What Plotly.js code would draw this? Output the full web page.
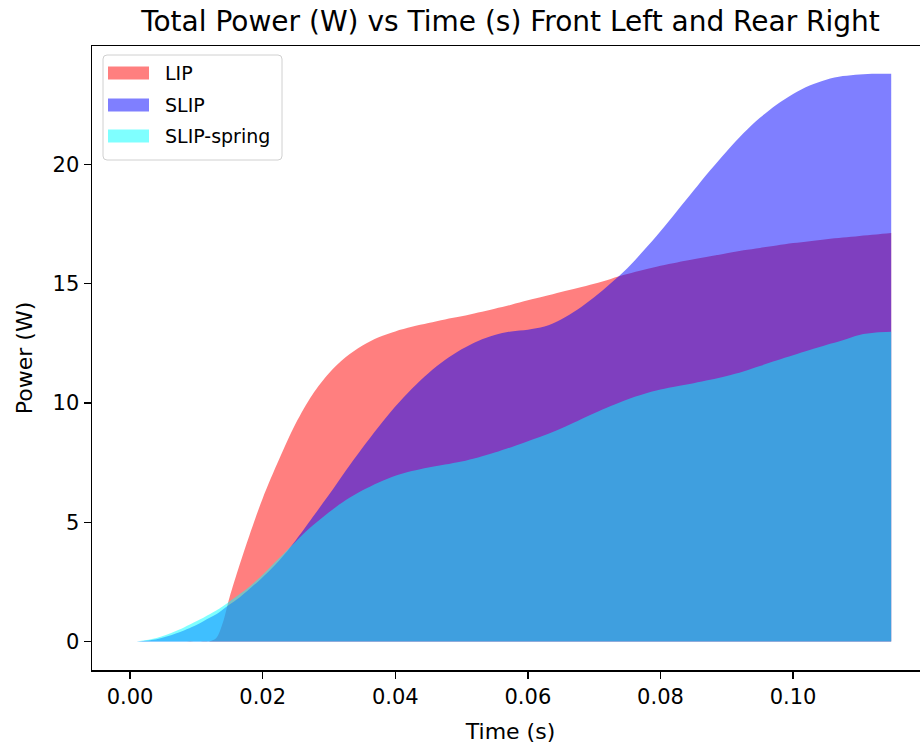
<!DOCTYPE html>
<html>
<head>
<meta charset="utf-8">
<script src="https://cdn.plot.ly/plotly-3.0.1.min.js"></script>
<style>
  html, body { margin: 0; padding: 0; background: #fff; overflow: hidden; }
  #chart { width: 930px; height: 746px; }
</style>
</head>
<body>
<div id="chart"></div>
<script>
// Sample times (s)
const time = [0.001, 0.004, 0.007, 0.010, 0.012, 0.013, 0.014, 0.015, 0.0165, 0.018,
  0.020, 0.0225, 0.025, 0.0275, 0.030, 0.0325, 0.035, 0.0375, 0.040, 0.0425,
  0.045, 0.0475, 0.050, 0.0525, 0.055, 0.0575, 0.060, 0.0625, 0.065, 0.0675,
  0.070, 0.0725, 0.075, 0.0775, 0.080, 0.0825, 0.085, 0.0875, 0.090, 0.0925,
  0.095, 0.0975, 0.100, 0.1025, 0.105, 0.1075, 0.110, 0.1125, 0.1148];

// Total power (W), front left + rear right, per model
const lipPower = [0, 0, 0, 0, 0.02, 0.15, 0.8, 1.85, 3.2, 4.45,
  6.0, 7.65, 9.15, 10.35, 11.25, 11.92, 12.4, 12.75, 13.0, 13.19,
  13.35, 13.5, 13.63, 13.79, 13.95, 14.12, 14.3, 14.47, 14.65, 14.82,
  15.0, 15.2, 15.4, 15.58, 15.75, 15.89, 16.02, 16.15, 16.28, 16.4,
  16.5, 16.6, 16.7, 16.78, 16.86, 16.93, 17.0, 17.06, 17.12];

const slipPower = [0, 0.1, 0.35, 0.7, 1.0, 1.15, 1.35, 1.55, 1.85, 2.2,
  2.7, 3.4, 4.25, 5.2, 6.15, 7.15, 8.1, 9.0, 9.85, 10.6,
  11.25, 11.8, 12.25, 12.6, 12.85, 13.0, 13.07, 13.2, 13.5, 13.92,
  14.43, 15.02, 15.65, 16.4, 17.2, 18.05, 18.9, 19.75, 20.55, 21.3,
  21.95, 22.5, 22.95, 23.3, 23.55, 23.7, 23.77, 23.8, 23.8];

const slipSpringPower = [0, 0.15, 0.45, 0.85, 1.15, 1.3, 1.48, 1.68, 1.98, 2.3,
  2.8, 3.5, 4.2, 4.85, 5.42, 5.92, 6.33, 6.67, 6.95, 7.15,
  7.3, 7.42, 7.55, 7.72, 7.92, 8.15, 8.4, 8.65, 8.93, 9.25,
  9.57, 9.87, 10.15, 10.38, 10.56, 10.7, 10.83, 10.97, 11.13, 11.32,
  11.55, 11.78, 12.0, 12.22, 12.43, 12.63, 12.85, 12.95, 12.98];

const seriesNames = ['LIP', 'SLIP', 'SLIP-spring'];
const seriesColors = ['rgba(255,0,0,0.5)', 'rgba(0,0,255,0.5)', 'rgba(0,255,255,0.5)'];
const seriesValues = [lipPower, slipPower, slipSpringPower];

const xTicks = [0, 0.02, 0.04, 0.06, 0.08, 0.10];
const yTicks = [0, 5, 10, 15, 20];

const FONT = 'DejaVu Sans, sans-serif';

const traces = seriesNames.map((name, i) => ({
  type: 'scatter',
  mode: 'lines',
  name: name,
  x: time,
  y: seriesValues[i],
  fill: 'tozeroy',
  fillcolor: seriesColors[i],
  line: { width: 0, shape: 'spline', smoothing: 0.9, color: seriesColors[i] },
  hoverinfo: 'x+y+name',
  showlegend: false
}));

// Legend box drawn in pixels from the top-left corner of the plot area
const shapes = [];
const annotations = [];
const boxL = 11, boxR = 190, boxT = 9, boxB = 114, rad = 4;
shapes.push({
  type: 'path', xref: 'paper', yref: 'paper',
  xsizemode: 'pixel', ysizemode: 'pixel', xanchor: 0, yanchor: 1,
  path: `M ${boxL + rad},${-boxT} L ${boxR - rad},${-boxT} Q ${boxR},${-boxT} ${boxR},${-boxT - rad} ` +
        `L ${boxR},${-boxB + rad} Q ${boxR},${-boxB} ${boxR - rad},${-boxB} ` +
        `L ${boxL + rad},${-boxB} Q ${boxL},${-boxB} ${boxL},${-boxB + rad} ` +
        `L ${boxL},${-boxT - rad} Q ${boxL},${-boxT} ${boxL + rad},${-boxT} Z`,
  fillcolor: 'rgba(255,255,255,0.8)',
  line: { color: '#d0d0d0', width: 1 },
  layer: 'above'
});
const rowCenters = [27, 59, 90];
seriesNames.forEach((name, i) => {
  const c = rowCenters[i];
  shapes.push({
    type: 'rect', xref: 'paper', yref: 'paper',
    xsizemode: 'pixel', ysizemode: 'pixel', xanchor: 0, yanchor: 1,
    x0: 16, x1: 57, y0: -(c - 6.5), y1: -(c + 6.5),
    fillcolor: seriesColors[i], line: { width: 0 }, layer: 'above'
  });
  annotations.push({
    xref: 'paper', yref: 'paper', x: 0, y: 1,
    xanchor: 'left', yanchor: 'middle',
    xshift: 71, yshift: -c,
    text: name, showarrow: false,
    font: { family: FONT, size: 19, color: '#000' }
  });
});

const axisCommon = {
  showgrid: false, zeroline: false,
  showline: true, mirror: true, linecolor: '#000', linewidth: 1.5,
  ticks: 'outside', ticklen: 7, tickwidth: 1.5, tickcolor: '#000',
  tickfont: { family: FONT, size: 21, color: '#000' }
};

const layout = {
  width: 930, height: 746,
  margin: { l: 92, r: 1, t: 46, b: 76 },
  paper_bgcolor: '#fff', plot_bgcolor: '#fff',
  title: {
    text: 'Total Power (W) vs Time (s) Front Left and Rear Right',
    font: { family: FONT, size: 28, color: '#000' },
    x: 0.5, xref: 'paper', xanchor: 'center',
    y: 1 - 21 / 746, yref: 'container', yanchor: 'middle'
  },
  xaxis: Object.assign({}, axisCommon, {
    range: [-0.00574, 0.1205],
    tickvals: xTicks, tickformat: '.2f',
    title: { text: 'Time (s)', font: { family: FONT, size: 22, color: '#000' }, standoff: 16 }
  }),
  yaxis: Object.assign({}, axisCommon, {
    range: [-1.19, 24.96],
    tickvals: yTicks,
    title: { text: 'Power (W)', font: { family: FONT, size: 22, color: '#000' }, standoff: 14 }
  }),
  shapes: shapes,
  annotations: annotations,
  showlegend: false
};

Plotly.newPlot('chart', traces, layout, { displayModeBar: false, staticPlot: true });
</script>
</body>
</html>
